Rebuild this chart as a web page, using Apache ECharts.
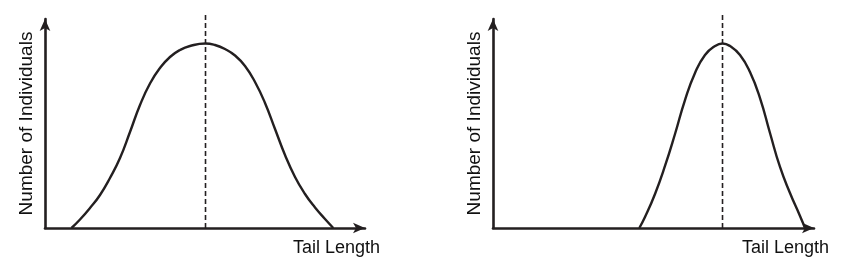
<!DOCTYPE html>
<html>
<head>
<meta charset="utf-8">
<script src="https://cdn.jsdelivr.net/npm/echarts@6/dist/echarts.min.js"></script>
<style>
html,body{margin:0;padding:0;background:#fff;}
#c{width:849px;height:277px;}
</style>
</head>
<body>
<div id="c"></div>
<script>
// Left panel: wide distribution (x: tail length, y: number of individuals), 0-100 scale
const leftX = [8.28, 10.94, 14.06, 17.19, 20.31, 23.44, 26.56, 29.69, 32.81, 35.94, 39.06, 42.19, 45.31, 50.16,
               53.13, 56.25, 59.38, 62.5, 65.63, 68.75, 71.88, 75.0, 78.13, 81.25, 84.38, 87.5, 90.09];
const leftY = [0, 4.07, 9.57, 15.79, 23.92, 33.49, 45.93, 58.85, 69.14, 76.56, 81.82, 85.17, 87.08, 88.28,
               87.56, 85.65, 82.54, 77.51, 69.86, 59.81, 47.37, 34.93, 24.40, 16.27, 9.81, 4.31, 0];
const leftMean = 50.16;
// Right panel: narrow distribution shifted right
const rightX = [45.58, 47.35, 50.47, 53.58, 56.70, 59.81, 62.93, 66.04, 69.16, 71.50,
                73.83, 76.95, 80.06, 83.18, 86.29, 89.41, 92.52, 95.64, 97.20];
const rightY = [0, 5.26, 16.27, 29.67, 44.98, 61.24, 74.16, 82.78, 87.08, 88.28,
                87.08, 82.78, 74.64, 62.20, 45.45, 29.19, 16.75, 5.74, 0];
const rightMean = 71.5;
const meanLineTop = 103;
const xTitle = 'Tail Length';
const yTitle = 'Number of Individuals';

const ink = '#231f20';
const textInk = '#111111';
const font = 'Liberation Sans, Arial, sans-serif';

function pairs(xs, ys){ return xs.map((x,i)=>[x, ys[i]]); }

function xAxisCfg(idx){
  return {
    type:'value', gridIndex: idx, min:0, max:100,
    axisLine:{show:true, lineStyle:{color:ink, width:2.6}, symbol:['none','arrow'], symbolSize:[8,12]},
    axisTick:{show:false}, axisLabel:{show:false}, splitLine:{show:false},
    name: xTitle, nameLocation:'end', nameGap: 15,
    nameTextStyle:{color:textInk, fontFamily:font, fontSize:18, align:'right', verticalAlign:'top', padding:[11,0,0,0]}
  };
}
function yAxisCfg(idx){
  return {
    type:'value', gridIndex: idx, min:0, max:100,
    axisLine:{show:true, lineStyle:{color:ink, width:2.6}, symbol:['none','arrow'], symbolSize:[8,12]},
    axisTick:{show:false}, axisLabel:{show:false}, splitLine:{show:false},
    name: yTitle, nameLocation:'middle', nameGap: 9, nameRotate: 90,
    nameTextStyle:{color:textInk, fontFamily:font, fontSize:19}
  };
}

const chart = echarts.init(document.getElementById('c'), null, {renderer:'canvas'});
chart.setOption({
  animation:false,
  backgroundColor:'#fff',
  grid:[
    {left:45, top:19, width:320, height:209},
    {left:493, top:19, width:321, height:209}
  ],
  xAxis:[xAxisCfg(0), xAxisCfg(1)],
  yAxis:[yAxisCfg(0), yAxisCfg(1)],
  series:[
    {type:'line', xAxisIndex:0, yAxisIndex:0, data:pairs(leftX,leftY), smooth:0.5, showSymbol:false,
     lineStyle:{color:ink, width:2.4}, clip:false},
    {type:'line', xAxisIndex:0, yAxisIndex:0, data:[[leftMean,0],[leftMean,meanLineTop]], showSymbol:false,
     lineStyle:{color:ink, width:1.6, type:[5,3]}, clip:false},
    {type:'line', xAxisIndex:1, yAxisIndex:1, data:pairs(rightX,rightY), smooth:0.5, showSymbol:false,
     lineStyle:{color:ink, width:2.4}, clip:false},
    {type:'line', xAxisIndex:1, yAxisIndex:1, data:[[rightMean,0],[rightMean,meanLineTop]], showSymbol:false,
     lineStyle:{color:ink, width:1.6, type:[5,3]}, clip:false}
  ]
});
</script>
</body>
</html>
